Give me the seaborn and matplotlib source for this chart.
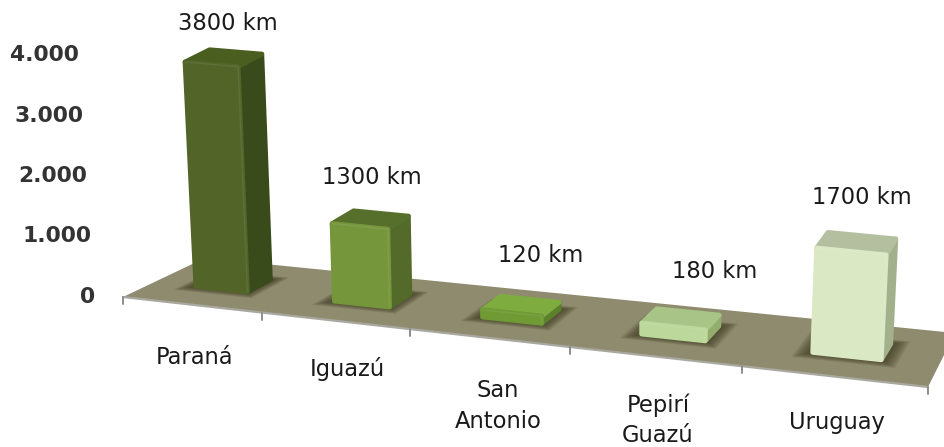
import numpy as np
import seaborn as sns
import matplotlib
matplotlib.use('Agg')
import matplotlib.pyplot as plt
from matplotlib.colors import to_rgb
from matplotlib.patches import Polygon
from matplotlib.path import Path
from matplotlib.transforms import Transform, IdentityTransform, ScaledTranslation

rios = ['Paraná', 'Iguazú', 'San\nAntonio', 'Pepirí\nGuazú', 'Uruguay']
longitud = [3800, 1300, 120, 180, 1700]
etiquetas = ['3800 km', '1300 km', '120 km', '180 km', '1700 km']
yticks = [0, 1000, 2000, 3000, 4000]
ylabels = ['0', '1.000', '2.000', '3.000', '4.000']

frente = ['#526428', '#76963c', '#6f9a34', '#bcd89a', '#dbe8c4']
lado = ['#394a1b', '#536a2b', '#5c7f2c', '#93ad6e', '#a3b08c']
arriba = ['#4a5e20', '#566f2a', '#7fac3e', '#a9c487', '#b4bfa0']

W, H = 944, 447
BAR_W = 0.38
D0, D1 = 0.37, 0.67   # bar footprint on the floor, in depth units
VP = np.array([545., 7500.])   # bars converge to this point, far below

# floor corners in pixels, order: front-left, front-right, back-right, back-left
quad = [(123, 297), (928, 387), (955, 333), (205, 258)]
src = [(-0.5, 0), (4.5, 0), (4.5, 1), (-0.5, 1)]
A, b = [], []
for (u, v), (px, py) in zip(src, quad):
    A.append([u, v, 1, 0, 0, 0, -u * px, -v * px])
    A.append([0, 0, 0, u, v, 1, -u * py, -v * py])
    b += [px, py]
HM = np.append(np.linalg.solve(np.array(A, float), np.array(b, float)), 1).reshape(3, 3)


def proj(x, d, val=0.0):
    x, d, val = np.broadcast_arrays(np.asarray(x, float), d, val)
    p = HM @ np.vstack([x.ravel(), d.ravel(), np.ones(x.size)])
    p = (p[:2] / p[2]).T
    k = 8.2e-6 * (1 + 0.05 * x.ravel() / 4)
    p = p + (p - VP) * (k * val.ravel())[:, None]
    return p


def to_disp(p):
    p = np.atleast_2d(p).astype(float).copy()
    p[:, 1] = H - p[:, 1]
    return p


class FrontFace(Transform):
    input_dims = output_dims = 2
    is_affine = False
    has_inverted = False

    def __init__(self, floor_depth):
        super().__init__()
        self.floor_depth = floor_depth

    def transform_non_affine(self, xy):
        xy = np.asarray(xy, float)
        return to_disp(proj(xy[:, 0], self.floor_depth, xy[:, 1]))

    def transform_path_non_affine(self, path):
        return Path(self.transform_non_affine(path.vertices), path.codes)


def poly(pts, **kw):
    ax.add_patch(Polygon(to_disp(np.vstack(pts)), closed=True, clip_on=False,
                         transform=IdentityTransform(), **kw))


def mezcla(c, f=0.25):
    return tuple(np.array(to_rgb(c)) * (1 - f) + f)


sns.set_theme(style='white')
plt.rcParams['font.family'] = ['DejaVu Sans']

fig = plt.figure(figsize=(W / 100, H / 100), dpi=100)
ax = fig.add_axes([123 / W, (H - 295) / H, 805 / W, 242 / H])

sns.barplot(x=rios, y=longitud, hue=rios, palette=frente, width=BAR_W, saturation=1,
            legend=False, ax=ax, zorder=5)
bars = list(ax.patches)
ax.set_xlim(-0.5, 4.5)
ax.set_ylim(0, 4000)
sns.despine(ax=ax, left=True, bottom=True)
ax.patch.set_alpha(0)

# floor
xs = np.array([-0.5, 4.5])
poly([proj(xs, 0), proj(xs[::-1], 1)], facecolor='#8f8b6e', edgecolor='none', zorder=0)
ax.plot(*to_disp(proj(xs, 0)).T, color='#a8a8a0', lw=1.6, transform=IdentityTransform(),
        clip_on=False, zorder=1)
for t in np.arange(-0.5, 4.6, 1):
    pt = proj(t, 0)[0]
    ax.plot([pt[0], pt[0]], [H - pt[1], H - pt[1] - 7], color='#8c8c8c', lw=1.4,
            transform=IdentityTransform(), clip_on=False, zorder=1)

# bars: front comes from seaborn, the other faces follow its geometry
for i, bar in enumerate(bars):
    x0, x1 = bar.get_x(), bar.get_x() + bar.get_width()
    val = bar.get_height()
    # soft shadow on the floor
    for grow in np.linspace(0.12, 0.03, 10):
        gx0, gx1 = x0 - grow * 0.8, x1 + grow * 0.8
        poly([proj([gx0, gx1], D0 - grow), proj([gx1, gx0], D1 + grow * 0.7)],
             facecolor='#3d3a20', alpha=0.11, edgecolor='none', zorder=2)
    poly([proj([x1, x1], [D0, D1], 0), proj([x1, x1], [D1, D0], val)],
         facecolor=lado[i], edgecolor=lado[i], lw=3.5, joinstyle='round', zorder=3)
    poly([proj([x0, x1], D0, val), proj([x1, x0], D1, val)],
         facecolor=arriba[i], edgecolor=arriba[i], lw=3.5, joinstyle='round', zorder=4)
    bar.set_transform(FrontFace(D0))
    bar.set_clip_on(False)
    bar.set_edgecolor(frente[i])
    bar.set_linewidth(3.5)
    bar.set_joinstyle('round')
    # thin bevel along the top and right edge of the front face
    ax.plot(*to_disp(np.vstack([proj([x0, x1], D0, val), proj(x1, D0, 0)])).T,
            color=mezcla(frente[i], 0.15), lw=1.2, alpha=0.45, solid_joinstyle='round',
            transform=IdentityTransform(), clip_on=False, zorder=6)

# value labels, centred in pixels
lab_val = [(228, 24), (372, 178), (541, 256), (715, 271), (862, 197)]
for i, bar in enumerate(bars):
    ax.text(lab_val[i][0], H - lab_val[i][1], etiquetas[i], ha='center', va='center',
            fontsize=16.3, color='#1a1a1a', transform=IdentityTransform(),
            clip_on=False, zorder=7)

# axis labels are real ticks, shifted to follow the slanted floor
ax.set_yticks(yticks, ylabels)
ax.tick_params(axis='both', length=0, pad=0)
dx_y = [-28, -32, -36, -40, -44]
for lab, dx in zip(ax.get_yticklabels(), dx_y):
    lab.set_fontsize(15.7)
    lab.set_fontweight('bold')
    lab.set_color('#333333')
    lab.set_transform(lab.get_transform() + ScaledTranslation(dx / 100, 0, fig.dpi_scale_trans))

ax.set_xticks(range(5), rios)
lab_x = [195, 347, 498, 658, 837]
lab_y = [358, 369, 406, 420, 423]
for i, lab in enumerate(ax.get_xticklabels()):
    lab.set_fontsize(16.3)
    lab.set_color('#1a1a1a')
    lab.set_va('center')
    lab.set_linespacing(1.4)
    dx = lab_x[i] - (123 + 161 * (i + 0.5))
    dy = -(lab_y[i] - 295)
    lab.set_transform(lab.get_transform() + ScaledTranslation(dx / 100, dy / 100, fig.dpi_scale_trans))

ax.set_xlabel('')
fig.savefig('out.png', dpi=100, facecolor='white')
